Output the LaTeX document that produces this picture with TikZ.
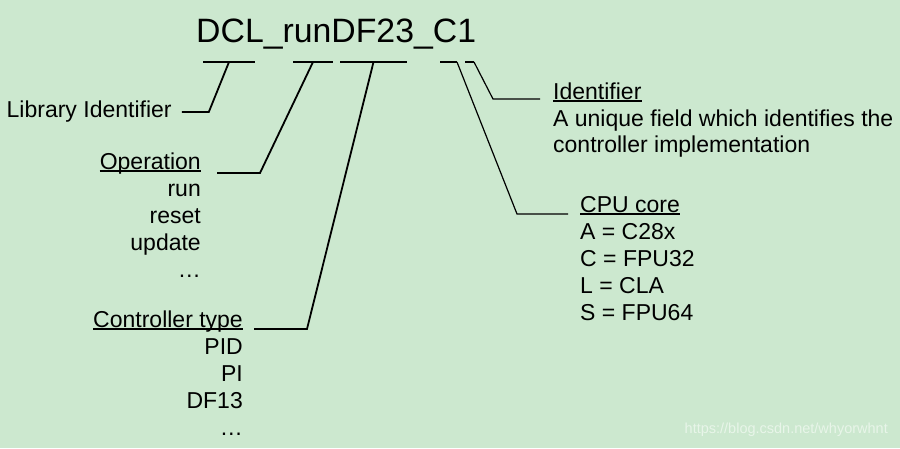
\documentclass[tikz,border=0pt]{standalone}
\usepackage{fontspec}
\setmainfont{Liberation Sans}
\usetikzlibrary{calc, positioning}
\definecolor{eyegreen}{RGB}{204,232,207}

\begin{document}
\begin{tikzpicture}[x=1pt, y=-1pt, font=\fontsize{23}{27}\selectfont,
    lbl/.style={inner sep=0pt},
    bar/.style={line width=2.6pt},
    lead/.style={line width=1.8pt},
    thinlead/.style={line width=1.2pt},
    under/.style={line width=1.3pt}]

% Background and page size
\fill[eyegreen] (0,0) rectangle (900,448);
\useasboundingbox (0,0) rectangle (900,448);

% Function name
\node[lbl, anchor=base west, font=\fontsize{33.8}{40}\selectfont] (name) at (196,42) {DCL\_runDF23\_C1};

% Bars under the fields
\foreach \a/\b/\n in {203/255/dcl, 293/333/run, 340/407/df} {
    \draw[bar] (\a,62) -- (\b,62);
    \coordinate (\n) at ({(\a+\b)/2},62);
}
\draw[bar] (440,62) -- (457,62) coordinate (corebar);
\draw[bar] (465,62) -- (474,62) coordinate (idbar);

% Left side labels
\node[lbl, anchor=base west] (libid) at (6.5,117) {Library Identifier};

\node[lbl, anchor=base east] (op) at (201,169) {Operation};
\foreach \t [count=\i] in {run, reset, update, \dots}
    \node[lbl, anchor=base east] (op\i) at (201, 169+27*\i) {\t};

\node[lbl, anchor=base east] (ct) at (243,327) {Controller type};
\foreach \t [count=\i] in {PID, PI, DF13, \dots}
    \node[lbl, anchor=base east] (ct\i) at (243, 327+27*\i) {\t};

% Right side labels
\node[lbl, anchor=base west] (ident) at (553,99) {Identifier};
\foreach \t [count=\i] in {A unique field which identifies the, controller implementation}
    \node[lbl, anchor=base west] (ident\i) at (553, 100+26*\i) {\t};

\node[lbl, anchor=base west] (cpu) at (580,212) {CPU core};
\foreach \t [count=\i] in {A = C28x, C = FPU32, L = CLA, S = FPU64}
    \node[lbl, anchor=base west] (cpu\i) at (580, 212+27*\i) {\t};

% Underlined headings
\foreach \n in {op, ct, ident, cpu}
    \draw[under] ([yshift=-2pt]\n.base west) -- ([yshift=-2pt]\n.base east);

% Leaders
\draw[lead] ($(libid.base east)+(10,-5)$) -- ++(27,0) -- (dcl);
\draw[lead] ($(op.base east)+(16,4)$) -- ++(43,0) -- (run);
\draw[lead] ($(ct.base east)+(11,2)$) -- ++(53,0) -- (df);
\draw[thinlead] (idbar) -- ($(ident.base west)+(-60,0)$) -- ($(ident.base west)+(-13,0)$);
\draw[thinlead] (corebar) -- ($(cpu.base west)+(-63,2)$) -- ($(cpu.base west)+(-12,2)$);

% Watermark
\node[lbl, anchor=base east, font=\fontsize{14.5}{16}\selectfont, text=white!55!eyegreen] (mark) at (888,433) {https://blog.csdn.net/whyorwhnt};

\end{tikzpicture}
\end{document}
